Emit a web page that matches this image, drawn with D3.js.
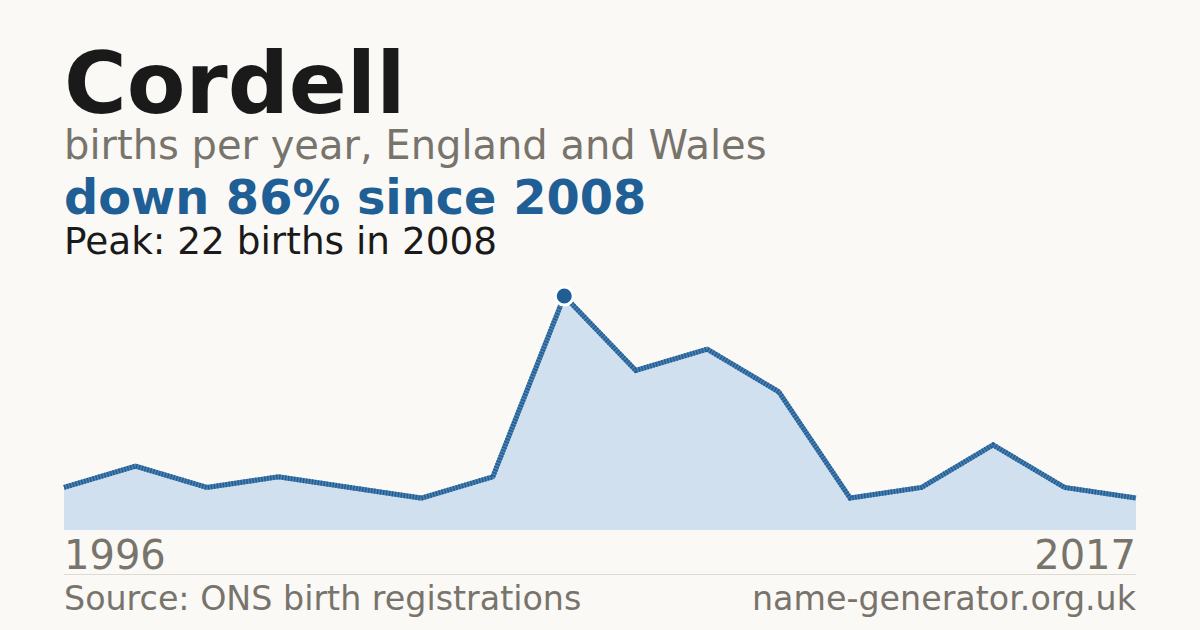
<!DOCTYPE html>
<html><head><meta charset="utf-8">
<script src="https://cdn.jsdelivr.net/npm/d3@7"></script>
<style>
html,body{margin:0;padding:0;background:#faf9f5;}
svg{display:block;font-family:"DejaVu Sans",sans-serif;}
</style></head>
<body>
<svg id="c" width="1200" height="630"></svg>
<script>
const name = "Cordell";
const subtitle = "births per year, England and Wales";
const headline = "down 86% since 2008";
const peakText = "Peak: 22 births in 2008";
const source = "Source: ONS birth registrations";
const site = "name-generator.org.uk";
const years = [1996, 1998, 2000, 2001, 2003, 2005, 2007, 2008, 2009, 2010, 2011, 2012, 2013, 2015, 2016, 2017];
const births = [4, 6, 4, 5, 4, 3, 5, 22, 15, 17, 13, 3, 4, 8, 4, 3];

(function(){
const svg = d3.select("#c");
svg.append("rect").attr("width",1200).attr("height",630).attr("fill","#faf9f5");

const L = 64, R = 1136, yTop = 296, yBot = 530;
const x = d3.scalePoint().domain(years).range([L, R]);
const y = d3.scaleLinear().domain([0, d3.max(births)]).range([yBot, yTop]);
const data = years.map((yr,i)=>({yr, v: births[i]}));

svg.append("text").attr("x",64).attr("y",113).attr("font-size",85.5).attr("font-weight","bold").attr("fill","#1a1a1a").text(name);
svg.append("text").attr("x",64).attr("y",159).attr("font-size",40).attr("fill","#78746c").text(subtitle);
svg.append("text").attr("x",64).attr("y",214).attr("font-size",47.8).attr("font-weight","bold").attr("fill","#1f5f96").text(headline);
svg.append("text").attr("x",64).attr("y",254).attr("font-size",37.4).attr("fill","#1a1a1a").text(peakText);

const area = d3.area().x(d=>x(d.yr)).y0(yBot).y1(d=>y(d.v));
const line = d3.line().x(d=>x(d.yr)).y(d=>y(d.v));
svg.append("path").datum(data).attr("d",area).attr("fill","#d0e0ef");
svg.append("path").datum(data).attr("d",line).attr("fill","none").attr("stroke","#4f80b0").attr("stroke-width",5);
svg.append("path").datum(data).attr("d",line).attr("fill","none").attr("stroke","#1f5f96").attr("stroke-width",5).attr("stroke-dasharray","1.5,1.5");

const peakIdx = births.indexOf(d3.max(births));
svg.append("circle").attr("cx",x(years[peakIdx])).attr("cy",y(births[peakIdx])).attr("r",9)
  .attr("fill","#1f5f96").attr("stroke","#ffffff").attr("stroke-width",3);

svg.append("text").attr("x",L).attr("y",569).attr("font-size",40).attr("fill","#78746c").text(years[0]);
svg.append("text").attr("x",R).attr("y",569).attr("font-size",40).attr("fill","#78746c").attr("text-anchor","end").text(years[years.length-1]);
svg.append("line").attr("x1",L).attr("x2",R).attr("y1",574.5).attr("y2",574.5).attr("stroke","#dedad2").attr("stroke-width",1);
svg.append("text").attr("x",L).attr("y",610).attr("font-size",33.3).attr("fill","#78746c").text(source);
svg.append("text").attr("x",R).attr("y",610).attr("font-size",33.3).attr("fill","#78746c").attr("text-anchor","end").text(site);
})();
</script>
</body></html>
